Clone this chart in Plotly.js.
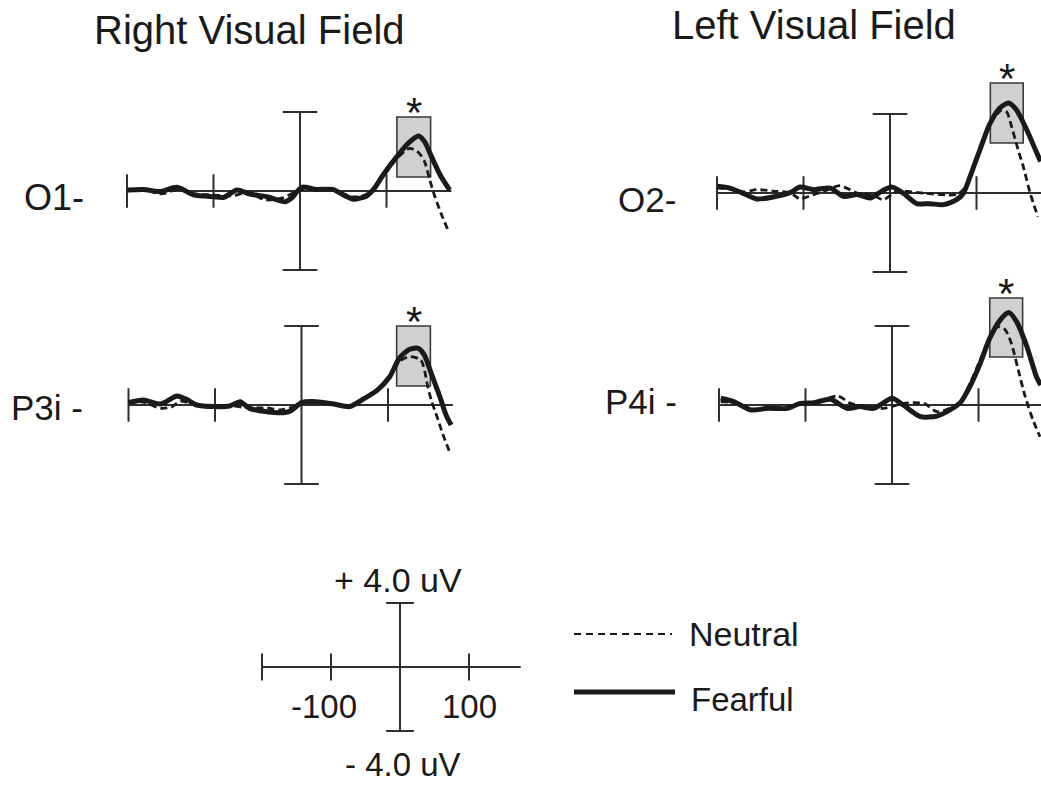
<!DOCTYPE html>
<html>
<head>
<meta charset="utf-8">
<script src="https://cdn.plot.ly/plotly-3.0.1.min.js"></script>
<style>html,body{margin:0;padding:0;background:#fff;}#chart{width:1041px;height:785px;}</style>
</head>
<body>
<div id="chart"></div>
<script>
// ---------------- DATA ----------------
const fieldTitles = ['Right Visual Field', 'Left Visual Field'];
const channelLabels = ['O1-', 'P3i -', 'O2-', 'P4i -'];
const conditionNames = ['Neutral', 'Fearful'];

// time axis (ms) and scale
const epochStartMs = -200;
const epochEndMs = 175;
const tickMs = [-200, -100, 100];
const ampScaleUv = 4.0;
const scaleTickLabels = ['-100', '100'];
const scaleAmpLabels = ['+ 4.0 uV', '- 4.0 uV'];

// O1 (right visual field)
const o1NeutralT = [-200,-180,-160,-140,-120,-100,-80,-60,-40,-20,0,20,40,60,75,85,96,112,127,137,144,150,156,163,171];
const o1NeutralV = [0.0,0.05,-0.15,0.1,-0.15,-0.2,-0.25,-0.1,-0.45,-0.35,0.05,0.12,0.05,-0.3,-0.2,0.05,0.75,1.65,2.16,1.95,1.49,0.56,-0.29,-1.13,-1.97];
const o1FearfulT = [-200,-181,-162,-142,-123,-100,-88,-73,-58,-38,-17,-10,2,19,38,50,62,77,85,96,112,125,137,144,152,162,173];
const o1FearfulV = [0.05,0.08,-0.03,0.19,-0.2,-0.29,-0.32,0.05,-0.15,-0.29,-0.54,-0.37,0.19,0.08,0.08,-0.2,-0.42,-0.25,0.08,0.81,1.74,2.41,2.78,2.5,1.74,0.81,0.05];

// P3i (right visual field)
const p3NeutralT = [-200,-183,-163,-150,-140,-120,-100,-80,-60,-40,-25,-10,0,20,40,56,71,87,102,113,125,138,142.5,146,150,158,163,171];
const p3NeutralV = [0.1,0.15,-0.17,-0.1,0.2,-0.05,-0.1,-0.05,-0.15,-0.15,-0.25,-0.1,0.1,0.12,0.05,-0.05,0.3,0.75,1.45,2.2,2.45,2.28,1.69,0.93,0.25,-0.76,-1.43,-2.36];
const p3FearfulT = [-200,-183,-163,-144,-133,-121,-102,-83,-71,-60,-40,-21,-12,0,17,37,56,71,87,102,113,125,135,142,150,160,167,173];
const p3FearfulV = [0.12,0.25,0.05,0.46,0.29,0.0,-0.08,-0.05,0.17,-0.17,-0.34,-0.39,-0.29,0.12,0.17,0.05,-0.08,0.29,0.73,1.43,2.36,2.82,2.87,2.53,1.6,0.42,-0.5,-1.01];

// O2 (left visual field)
const o2NeutralT = [-200,-185,-170,-154,-135,-115,-104,-90,-77,-58,-38,-20,-8,8,38,77,88,104,115,129,135,140,148,154,162,171];
const o2NeutralV = [0.25,0.2,0.05,0.17,0.1,0.0,-0.3,-0.1,0.08,0.37,0.0,-0.1,-0.34,0.08,0.0,-0.08,0.34,2.19,3.46,4.2,4.1,3.45,2.2,1.35,0.0,-1.2];
const o2FearfulT = [-200,-185,-169,-154,-135,-115,-104,-88,-69,-54,-38,-23,-10,2,15,31,46,62,77,85,94,104,115,127,137,146,158,169,174];
const o2FearfulV = [0.34,0.25,-0.03,-0.3,-0.2,0.03,0.3,0.17,0.25,-0.17,-0.08,-0.25,0.08,0.3,0.0,-0.54,-0.54,-0.59,-0.34,0.0,1.01,2.19,3.46,4.3,4.56,4.22,3.2,2.1,1.6];

// P4i (left visual field)
const p4NeutralT = [-198,-183,-163,-144,-121,-106,-90,-63,-48,-33,-10,13,37,52,67,79,102,113,123,131,138,146,154,163,171];
const p4NeutralV = [0.17,0.1,-0.2,-0.17,-0.1,0.05,0.1,0.46,0.08,-0.08,-0.17,0.08,0.08,-0.34,-0.17,0.17,2.28,3.46,3.97,3.8,3.12,1.77,0.42,-0.76,-1.6];
const p4FearfulT = [-198,-183,-163,-144,-121,-106,-90,-71,-52,-37,-21,0,13,33,52,67,79,90,102,113,125,135,144,156,167,172];
const p4FearfulV = [0.34,0.17,-0.25,-0.17,-0.17,0.08,0.12,0.29,-0.17,-0.08,-0.17,0.34,0.0,-0.59,-0.56,-0.25,0.12,0.93,2.11,3.38,4.3,4.68,4.22,2.95,1.43,1.01];

// significance windows (shaded boxes) per channel, order O1, P3i, O2, P4i
const windowStartMs = [112, 110, 116, 113];
const windowEndMs   = [151, 149, 154, 151];
const windowLowUv   = [0.71, 0.96, 2.53, 2.43];
const windowHighUv  = [3.75, 4.0, 5.57, 5.42];
const windowMarks   = ['*', '*', '*', '*'];

const neutralT = [o1NeutralT, p3NeutralT, o2NeutralT, p4NeutralT];
const neutralV = [o1NeutralV, p3NeutralV, o2NeutralV, p4NeutralV];
const fearfulT = [o1FearfulT, p3FearfulT, o2FearfulT, p4FearfulT];
const fearfulV = [o1FearfulV, p3FearfulV, o2FearfulV, p4FearfulV];

// ---------------- LAYOUT GEOMETRY ----------------
const W = 1041, H = 785;
const INK = '#1a1a1a', AXC = '#2e2e2e';
const FONT = 'Liberation Sans, Arial, Helvetica, sans-serif';
const px = x => x / W;
const py = y => 1 - y / H;

// pixel position of (0 ms, 0 uV) and scale for each subplot (4 panels + scale bar)
const geom = [
  {x0: 300,   y0: 191, kx: 0.865, ky: 19.75},
  {x0: 301.5, y0: 405, kx: 0.865, ky: 19.75},
  {x0: 890,   y0: 193, kx: 0.865, ky: 19.75},
  {x0: 892,   y0: 405, kx: 0.865, ky: 19.75},
  {x0: 400,   y0: 667, kx: 0.69,  ky: 16.0}
];
const xLo = -230, xHi = 200, yLoP = -4.5, yHiP = 6.0, yLoS = -4.5, yHiS = 4.5;

const layout = {
  width: W, height: H,
  margin: {l: 0, r: 0, t: 0, b: 0},
  paper_bgcolor: '#ffffff',
  plot_bgcolor: 'rgba(0,0,0,0)',
  showlegend: false,
  font: {family: FONT, color: INK},
  shapes: [],
  annotations: []
};

geom.forEach((g, i) => {
  const s = i === 0 ? '' : String(i + 1);
  let hi = xHi;
  let right = g.x0 + xHi * g.kx;
  if (right > W) { hi = (W - g.x0) / g.kx; right = W; }
  const left = g.x0 + xLo * g.kx;
  const yl = i < 4 ? yLoP : yLoS, yh = i < 4 ? yHiP : yHiS;
  layout['xaxis' + s] = {domain: [px(left), px(right)], range: [xLo, hi], visible: false, fixedrange: true, anchor: 'y' + s};
  layout['yaxis' + s] = {domain: [py(g.y0 - yl * g.ky), py(g.y0 - yh * g.ky)], range: [yl, yh], visible: false, fixedrange: true, anchor: 'x' + s};
});

const tickHalf = 0.85;   // uV
const capHalf = 20;      // ms

function addAxes(i) {
  const s = i === 0 ? '' : String(i + 1);
  const xr = 'x' + s, yr = 'y' + s;
  const ln = (x0, y0, x1, y1) => layout.shapes.push({type: 'line', xref: xr, yref: yr, x0, y0, x1, y1, layer: 'below', line: {color: AXC, width: 2}});
  ln(epochStartMs, 0, epochEndMs, 0);
  tickMs.forEach(t => ln(t, -tickHalf, t, tickHalf));
  ln(0, -ampScaleUv, 0, ampScaleUv);
  ln(-capHalf, ampScaleUv, capHalf, ampScaleUv);
  ln(-capHalf, -ampScaleUv, capHalf, -ampScaleUv);
}

const traces = [];
for (let i = 0; i < 4; i++) {
  const s = i === 0 ? '' : String(i + 1);
  addAxes(i);
  layout.shapes.push({type: 'rect', xref: 'x' + s, yref: 'y' + s,
    x0: windowStartMs[i], x1: windowEndMs[i], y0: windowLowUv[i], y1: windowHighUv[i],
    layer: 'below', fillcolor: '#cfd0d2', line: {color: '#3a3a3a', width: 1.6}});
  layout.annotations.push({xref: 'x' + s, yref: 'y' + s,
    x: (windowStartMs[i] + windowEndMs[i]) / 2, y: windowHighUv[i],
    text: windowMarks[i], showarrow: false, xanchor: 'center', yanchor: 'bottom', yshift: -21,
    font: {size: 42, family: FONT, color: INK}});
  traces.push({x: neutralT[i], y: neutralV[i], xaxis: 'x' + s, yaxis: 'y' + s, mode: 'lines', name: conditionNames[0],
    line: {color: INK, width: 2.8, dash: '7px,4px', shape: 'spline', smoothing: 0.7}, hoverinfo: 'skip'});
  traces.push({x: fearfulT[i], y: fearfulV[i], xaxis: 'x' + s, yaxis: 'y' + s, mode: 'lines', name: conditionNames[1],
    line: {color: INK, width: 5, shape: 'spline', smoothing: 0.7}, hoverinfo: 'skip'});
}
// scale bar
addAxes(4);

// text helper: top-anchored by baseline pixel
function txt(text, x, baseline, size, xanchor) {
  layout.annotations.push({xref: 'paper', yref: 'paper', x: px(x), y: py(baseline - 0.905 * size - 1),
    text, showarrow: false, xanchor, yanchor: 'top', font: {size, family: FONT, color: INK}});
}
txt(fieldTitles[0], 249, 43, 40, 'center');
txt(fieldTitles[1], 813.5, 38, 40, 'center');
txt(channelLabels[0], 86, 209, 36, 'right');
txt(channelLabels[1], 85, 419, 35, 'right');
txt(channelLabels[2], 678, 211, 35, 'right');
txt(channelLabels[3], 679, 413, 35, 'right');
txt(scaleAmpLabels[0], 398, 591, 34, 'center');
txt(scaleAmpLabels[1], 403, 775, 33, 'center');
txt(scaleTickLabels[0], 323.5, 717, 33, 'center');
txt(scaleTickLabels[1], 469, 717, 33, 'center');

// legend
layout.shapes.push({type: 'line', xref: 'paper', yref: 'paper', x0: px(574), x1: px(672), y0: py(634), y1: py(634),
  line: {color: INK, width: 2.2, dash: '7px,5px'}});
layout.shapes.push({type: 'line', xref: 'paper', yref: 'paper', x0: px(574), x1: px(675), y0: py(692), y1: py(692),
  line: {color: INK, width: 5}});
txt(conditionNames[0], 687, 645, 34, 'left');
txt(conditionNames[1], 689, 710, 33, 'left');

Plotly.newPlot('chart', traces, layout, {staticPlot: true, displayModeBar: false});
</script>
</body>
</html>
